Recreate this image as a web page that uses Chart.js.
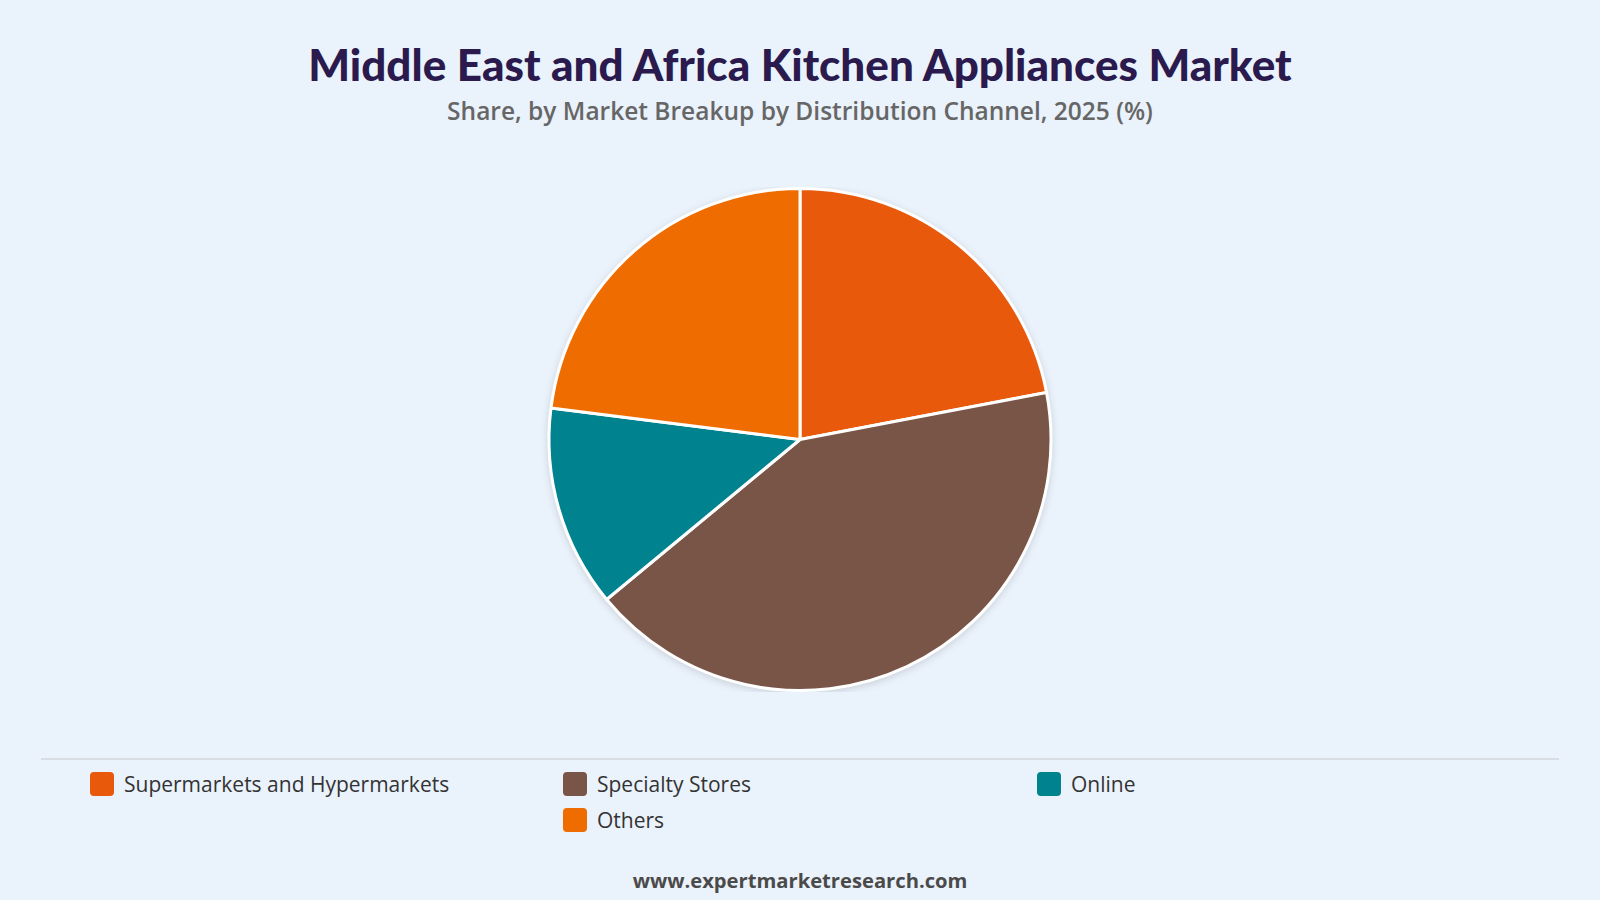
<!DOCTYPE html>
<html>
<head>
<meta charset="utf-8">
<script src="https://cdn.jsdelivr.net/npm/chart.js@4.4.1/dist/chart.umd.min.js"></script>
<style>
  html, body { margin: 0; padding: 0; }
  body {
    width: 1600px; height: 900px; overflow: hidden;
    background: #EAF2FB;
    font-family: "Open Sans", "Noto Sans", sans-serif;
    position: relative;
  }
  #title {
    position: absolute; top: 38px; left: 0; width: 1600px; text-align: center;
    font-family: Lato, sans-serif; font-weight: 900; font-size: 44px; color: #2A1A4D;
  }
  #subtitle {
    position: absolute; top: 94px; left: 0; width: 1600px; text-align: center;
    font-size: 24.5px; font-weight: 600; color: #666;
  }
  #chartBox {
    position: absolute; left: 400px; top: 187px; width: 800px; height: 505px;
  }
  #divider {
    position: absolute; left: 41px; top: 758px; width: 1518px; height: 2px; background: #D8DDE3;
  }
  #legend {
    position: absolute; left: 90px; top: 771px; width: 1422px;
    display: grid; grid-template-columns: 473px 474px 474px; row-gap: 11px;
  }
  .item { display: flex; align-items: center; height: 25px; font-size: 21px; color: #333; }
  .swatch { width: 24px; height: 24px; border-radius: 4px; margin-right: 10px; }
  #footer {
    position: absolute; top: 866px; left: 0; width: 1600px; text-align: center;
    font-size: 20.2px; font-weight: 700; color: #4A4A4A;
  }
</style>
</head>
<body>
<div id="title">Middle East and Africa Kitchen Appliances Market</div>
<div id="subtitle">Share, by Market Breakup by Distribution Channel, 2025 (%)</div>
<div id="chartBox"><canvas id="myChart"></canvas></div>
<div id="divider"></div>
<div id="legend"></div>
<div id="footer">www.expertmarketresearch.com</div>
<script>
var categories = ["Supermarkets and Hypermarkets", "Specialty Stores", "Online", "Others"];
var shares = [22, 42, 13, 23];
var colours = ["#E8590C", "#795548", "#00838F", "#EF6C00"];

// soft shadow behind the pie
var pieShadow = {
    id: 'pieShadow',
    beforeDatasetsDraw: function(chart) {
        var arc = chart.getDatasetMeta(0).data[0];
        if (!arc) return;
        var ctx = chart.ctx;
        ctx.save();
        ctx.shadowColor = 'rgba(0, 0, 0, 0.18)';
        ctx.shadowBlur = 10;
        ctx.shadowOffsetY = 2;
        ctx.fillStyle = '#ffffff';
        ctx.beginPath();
        ctx.arc(arc.x, arc.y, arc.outerRadius, 0, Math.PI * 2);
        ctx.fill();
        ctx.restore();
    }
};

var ctx = document.getElementById('myChart').getContext('2d');
var chart = new Chart(ctx, {
    type: 'pie',
    data: {
        labels: categories,
        datasets: [{
            data: shares,
            backgroundColor: colours,
            borderColor: '#ffffff',
            borderWidth: 3
        }]
    },
    options: {
        responsive: true,
        maintainAspectRatio: false,
        animation: false,
        plugins: {
            legend: { display: false },
            tooltip: { enabled: false }
        }
    },
    plugins: [pieShadow]
});

// html legend
var legend = document.getElementById('legend');
categories.forEach(function(name, i) {
    var item = document.createElement('div');
    item.className = 'item';
    item.innerHTML = '<span class="swatch" style="background:' + colours[i] + '"></span>' + name;
    legend.appendChild(item);
});
// Others sits under Specialty Stores in the reference
legend.lastChild.style.gridColumn = '2';
</script>
</body>
</html>
